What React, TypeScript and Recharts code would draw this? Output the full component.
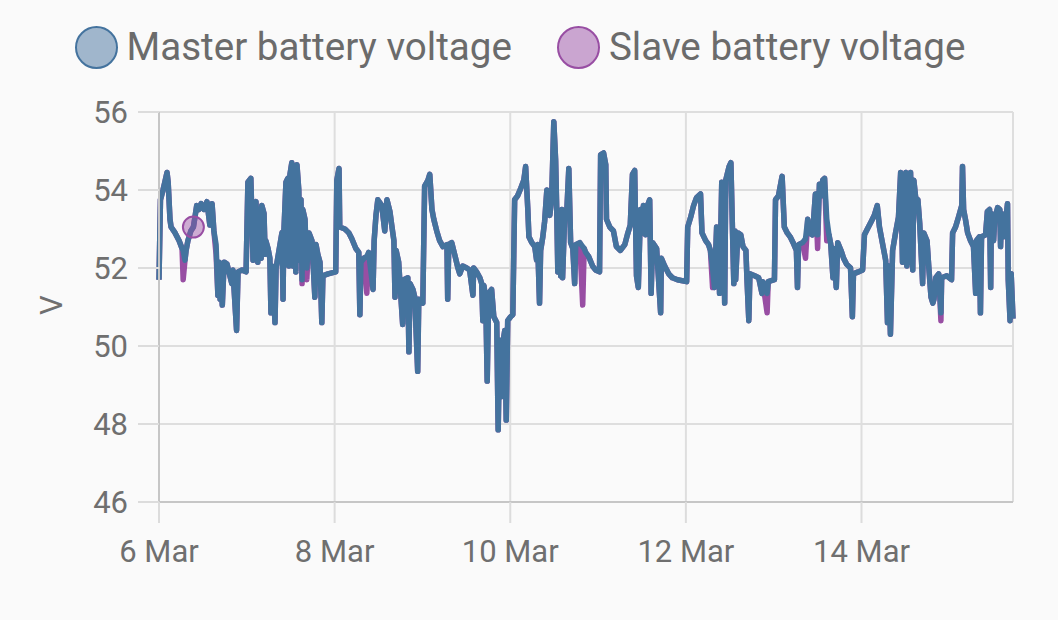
import React from 'react';
import { LineChart, Line, XAxis, YAxis, CartesianGrid, ReferenceDot } from 'recharts';

const MASTER_COLOR = '#44739e';
const SLAVE_COLOR = '#984ea3';
const TEXT_COLOR = '#6f6f6f';

// hours since 6 Mar 00:00
const hours = [
  0, 0.4, 1.1, 1.6, 2.2, 2.5, 3.0, 3.3, 4.4, 5.5,
  6.3, 6.6, 7.1, 7.4, 7.9, 8.7, 9.4, 9.9, 10.3, 10.9,
  11.5, 12.3, 13.1, 13.9, 14.5, 15.0, 15.6, 16.1, 16.4, 16.7,
  16.9, 17.3, 17.8, 18.6, 19.1, 19.9, 20.2, 21.2, 21.6, 22.7,
  23.8, 24.3, 25.1, 25.7, 25.9, 26.5, 27.0, 27.3, 27.9, 28.1,
  28.7, 29.0, 29.2, 29.8, 30.3, 30.6, 30.9, 31.1, 31.7, 32.0,
  32.8, 33.6, 33.9, 34.1, 34.7, 35.2, 35.5, 35.8, 36.3, 36.6,
  36.9, 37.4, 37.7, 38.2, 38.5, 38.8, 39.1, 39.3, 39.9, 40.4,
  41.0, 41.8, 42.6, 42.9, 43.4, 44.0, 44.5, 44.8, 46.2, 48.3,
  48.6, 49.2, 49.4, 50.8, 51.9, 52.7, 53.8, 54.6, 54.9, 55.2,
  56.0, 56.8, 57.3, 58.5, 58.8, 59.3, 59.8, 60.9, 61.7, 62.3,
  63.1, 63.6, 64.2, 64.5, 64.8, 65.5, 65.8, 66.6, 66.9, 68.0,
  68.3, 68.6, 69.4, 69.9, 70.7, 71.0, 72.1, 72.6, 73.5, 74.0,
  74.6, 75.1, 75.9, 76.7, 77.6, 78.7, 78.9, 79.2, 80.0, 80.8,
  81.7, 82.2, 83.0, 84.1, 84.9, 85.8, 86.0, 86.8, 87.7, 88.2,
  88.5, 88.8, 89.3, 89.7, 90.1, 90.9, 91.5, 92.3, 92.7, 93.1,
  93.5, 94.0, 94.5, 94.9, 95.3, 96.1, 96.7, 97.2, 98.0, 98.9,
  99.7, 100.2, 100.8, 101.1, 101.9, 102.7, 103.2, 103.5, 104.0, 104.3,
  104.9, 105.4, 106.0, 106.5, 106.8, 107.3, 107.9, 108.4, 108.7, 109.0,
  109.2, 109.8, 110.1, 110.3, 110.9, 111.4, 112.0, 112.5, 113.1, 113.6,
  113.9, 115.0, 115.8, 116.2, 116.6, 117.4, 118.5, 119.3, 120.4, 120.7,
  121.5, 122.1, 122.3, 123.2, 124.2, 125.0, 126.1, 127.3, 128.0, 128.8,
  129.4, 130.0, 130.5, 131.0, 131.6, 132.1, 132.4, 133.0, 133.5, 134.1,
  134.5, 134.9, 136.0, 137.1, 137.3, 138.2, 139.3, 140.3, 141.7, 144.2,
  144.5, 145.3, 146.1, 146.9, 148.0, 148.4, 149.4, 150.2, 150.7, 151.3,
  151.8, 152.4, 152.9, 153.2, 153.8, 154.3, 154.6, 154.9, 155.8, 156.3,
  156.8, 157.1, 157.4, 157.6, 158.2, 159.0, 159.6, 160.4, 160.7, 161.2,
  161.5, 162.8, 163.9, 164.8, 165.0, 166.2, 166.5, 168.2, 168.5, 169.3,
  169.8, 170.3, 170.9, 171.7, 172.5, 173.3, 174.2, 174.5, 174.8, 175.9,
  176.7, 177.3, 177.8, 178.6, 179.4, 180.0, 180.5, 181.1, 181.4, 181.9,
  182.5, 183.1, 183.6, 184.2, 184.4, 185.1, 185.5, 186.4, 187.1, 187.9,
  189.0, 189.5, 189.8, 191.1, 192.3, 192.8, 193.6, 194.7, 195.5, 196.3,
  196.9, 197.7, 198.6, 199.1, 199.4, 199.9, 200.5, 201.3, 202.1, 202.7,
  203.2, 203.5, 204.1, 204.4, 204.6, 205.2, 205.4, 206.0, 206.3, 206.8,
  207.4, 207.9, 208.7, 209.0, 209.9, 210.4, 211.0, 211.5, 211.8, 212.3,
  213.1, 213.7, 213.9, 215.3, 216.6, 216.9, 217.7, 218.5, 219.4, 219.6,
  219.9, 220.4, 221.0, 221.8, 222.6, 223.2, 223.4, 224.2, 224.5, 224.8,
  225.9, 226.4, 227.0, 227.3, 227.5, 228.1, 228.4, 229.2, 229.8, 230.0,
  230.3, 230.8, 231.3, 231.9, 232.1, 232.6, 232.9, 233.4,
];

const master = [
  51.7, 53.75, 54.0, 54.2, 54.45, 54.2, 53.25, 53.05, 52.9, 52.7,
  52.5, 52.45, 52.2, 52.45, 52.7, 52.95, 53.05, 53.35, 53.6, 53.5,
  53.65, 53.5, 53.7, 53.1, 53.65, 52.95, 52.6, 51.3, 52.15, 51.2,
  51.8, 51.05, 52.15, 52.1, 51.9, 51.6, 51.95, 50.4, 51.9, 51.95,
  51.9, 54.2, 54.3, 52.2, 53.6, 53.7, 52.15, 53.5, 52.25, 53.6,
  53.4, 52.35, 52.7, 52.5, 52.25, 50.85, 52.05, 51.9, 50.6, 52.0,
  52.45, 52.9, 51.2, 52.85, 54.2, 54.3, 52.05, 54.4, 54.7, 52.05,
  54.55, 51.9, 54.65, 54.0, 52.2, 53.75, 51.7, 53.5, 53.25, 52.0,
  52.9, 52.7, 51.25, 52.6, 52.35, 52.15, 50.6, 51.8, 51.85, 51.9,
  54.25, 54.55, 53.05, 53.0, 52.9, 52.75, 52.5, 52.4, 50.8, 52.15,
  52.25, 52.3, 52.4, 51.45, 52.7, 53.35, 53.75, 53.6, 52.95, 53.75,
  53.45, 53.1, 52.7, 51.25, 52.45, 52.15, 51.7, 50.55, 51.7, 51.75,
  49.85, 51.6, 51.45, 51.25, 49.35, 51.2, 51.1, 54.1, 54.25, 54.4,
  53.5, 53.25, 52.95, 52.7, 52.55, 52.6, 51.2, 52.6, 52.65, 52.35,
  52.0, 51.85, 52.05, 52.0, 51.95, 51.3, 52.0, 51.9, 51.75, 51.6,
  50.65, 51.55, 51.2, 49.1, 51.35, 51.45, 50.75, 50.6, 47.85, 50.15,
  48.7, 50.1, 50.4, 48.1, 50.65, 50.75, 50.8, 53.75, 53.85, 54.05,
  54.25, 54.6, 53.5, 52.8, 52.65, 52.55, 52.2, 52.6, 51.1, 52.45,
  52.8, 53.2, 54.0, 53.5, 53.35, 53.75, 55.75, 54.75, 53.5, 51.9,
  53.35, 51.8, 53.5, 51.75, 53.4, 53.35, 54.55, 52.65, 52.5, 51.6,
  52.6, 52.65, 52.55, 52.5, 52.4, 52.3, 52.05, 51.95, 51.9, 54.9,
  54.95, 54.65, 53.25, 53.05, 52.95, 52.55, 52.45, 52.6, 52.85, 53.1,
  54.4, 54.5, 51.8, 51.5, 53.5, 52.9, 53.6, 52.85, 53.6, 53.75,
  51.35, 52.65, 52.5, 50.85, 52.25, 52.05, 51.85, 51.75, 51.7, 51.65,
  53.05, 53.3, 53.6, 53.8, 53.9, 52.9, 52.7, 52.6, 52.45, 52.0,
  51.5, 53.05, 52.85, 51.35, 54.2, 54.0, 51.1, 54.25, 54.6, 54.7,
  52.7, 51.6, 52.95, 51.7, 52.9, 52.85, 52.55, 52.45, 51.7, 50.65,
  51.85, 51.8, 51.75, 51.35, 51.65, 51.35, 51.65, 51.7, 53.75, 53.85,
  54.1, 54.35, 53.05, 52.9, 52.8, 52.65, 52.45, 51.5, 52.6, 52.65,
  52.75, 53.25, 52.9, 52.85, 53.9, 52.85, 54.15, 53.85, 54.25, 54.3,
  53.25, 52.85, 52.6, 51.75, 52.5, 51.5, 52.65, 52.45, 52.25, 52.1,
  52.0, 50.75, 51.85, 51.9, 51.95, 52.85, 53.0, 53.2, 53.35, 53.6,
  53.05, 52.65, 52.2, 50.6, 52.05, 50.3, 52.45, 52.9, 53.3, 54.45,
  52.15, 54.25, 54.45, 52.05, 54.4, 52.15, 54.45, 51.95, 54.25, 53.8,
  53.75, 53.15, 51.6, 52.9, 52.7, 52.0, 51.25, 51.1, 51.2, 51.75,
  51.85, 50.85, 51.75, 51.8, 51.7, 52.9, 53.05, 53.3, 53.6, 54.6,
  53.5, 53.25, 52.9, 52.7, 52.55, 51.35, 52.7, 52.8, 50.85, 52.8,
  52.85, 53.45, 53.5, 51.5, 53.4, 52.7, 53.25, 53.55, 53.5, 52.55,
  53.4, 52.8, 53.1, 53.65, 51.7, 50.65, 51.85, 50.7,
];

const slave = [
  51.7, 53.75, 54.0, 54.2, 54.45, 54.2, 53.25, 53.05, 52.9, 52.7,
  52.5, 51.7, 52.2, 52.45, 52.7, 52.95, 53.05, 53.35, 53.6, 53.5,
  53.65, 53.5, 53.7, 53.1, 53.65, 52.95, 52.35, 51.3, 52.15, 51.2,
  51.8, 51.05, 52.15, 52.1, 51.9, 51.6, 51.95, 50.4, 51.9, 51.95,
  51.9, 54.2, 54.3, 52.2, 53.6, 53.7, 52.15, 53.5, 52.25, 53.6,
  53.4, 52.35, 52.7, 52.5, 52.25, 50.85, 52.05, 51.9, 50.6, 52.0,
  52.45, 52.9, 51.2, 52.85, 54.2, 54.3, 52.05, 54.4, 54.7, 52.05,
  54.55, 51.9, 54.65, 54.0, 52.2, 53.75, 51.6, 53.5, 53.25, 51.7,
  52.9, 52.7, 51.25, 52.6, 52.35, 52.15, 50.6, 51.8, 51.85, 51.9,
  54.25, 54.55, 53.05, 53.0, 52.9, 52.75, 52.5, 52.4, 50.8, 52.15,
  52.25, 51.35, 52.4, 51.45, 52.7, 53.35, 53.75, 53.6, 52.95, 53.75,
  53.45, 53.1, 52.7, 51.25, 52.45, 52.15, 51.7, 50.55, 51.7, 51.75,
  49.85, 51.6, 51.45, 51.25, 49.35, 51.2, 51.1, 54.1, 54.25, 54.4,
  53.5, 53.25, 52.95, 52.7, 52.55, 52.6, 51.2, 52.6, 52.65, 52.35,
  52.0, 51.85, 52.05, 52.0, 51.95, 51.3, 52.0, 51.9, 51.75, 51.6,
  50.65, 51.55, 51.2, 49.1, 51.35, 51.45, 50.75, 50.6, 47.85, 50.15,
  48.7, 50.1, 50.4, 48.1, 50.65, 50.75, 50.8, 53.75, 53.85, 54.05,
  54.25, 54.6, 53.5, 52.8, 52.65, 52.55, 52.2, 52.6, 51.1, 52.45,
  52.8, 53.2, 54.0, 53.5, 53.35, 53.75, 55.75, 54.75, 53.5, 51.9,
  53.35, 51.8, 53.5, 51.75, 53.4, 53.35, 54.55, 52.65, 52.5, 51.6,
  52.6, 52.65, 51.05, 52.5, 52.4, 52.3, 52.05, 51.95, 51.9, 54.9,
  54.95, 54.65, 53.25, 53.05, 52.95, 52.55, 52.45, 52.6, 52.85, 53.1,
  54.4, 54.5, 51.8, 51.5, 53.5, 52.9, 53.6, 52.85, 53.6, 53.75,
  51.35, 52.65, 52.5, 50.85, 52.25, 52.05, 51.85, 51.75, 51.7, 51.65,
  53.05, 53.3, 53.6, 53.8, 53.9, 52.9, 52.7, 52.6, 52.45, 51.5,
  51.5, 53.05, 52.85, 51.35, 54.2, 54.0, 51.1, 54.25, 54.6, 54.7,
  52.7, 51.6, 52.95, 51.7, 52.9, 52.85, 52.55, 52.45, 51.7, 50.65,
  51.85, 51.8, 51.75, 51.35, 51.65, 50.85, 51.65, 51.7, 53.75, 53.85,
  54.1, 54.35, 53.05, 52.9, 52.8, 52.65, 52.45, 51.5, 52.6, 52.65,
  52.25, 53.25, 52.9, 52.85, 53.9, 52.5, 54.15, 53.85, 54.25, 54.3,
  52.7, 52.85, 52.6, 51.75, 52.5, 51.5, 52.65, 52.45, 52.25, 52.1,
  52.0, 50.75, 51.85, 51.9, 51.95, 52.85, 53.0, 53.2, 53.35, 53.6,
  53.05, 52.65, 52.2, 50.6, 52.05, 50.3, 52.45, 52.9, 53.3, 54.45,
  52.15, 54.25, 54.45, 52.05, 54.4, 52.15, 54.45, 51.95, 54.25, 53.8,
  53.75, 53.15, 51.6, 52.9, 52.7, 52.0, 51.25, 51.1, 51.2, 51.75,
  51.85, 50.65, 51.75, 51.8, 51.7, 52.9, 53.05, 53.3, 53.6, 54.6,
  53.5, 53.25, 52.9, 52.7, 52.55, 51.35, 52.7, 52.8, 50.85, 52.8,
  52.85, 53.45, 53.5, 51.5, 53.4, 52.7, 53.25, 53.55, 53.5, 52.55,
  53.4, 52.8, 53.1, 53.65, 51.7, 50.65, 51.85, 50.7,
];

const xTicks = [0, 48, 96, 144, 192];
const xTickLabels = ['6 Mar', '8 Mar', '10 Mar', '12 Mar', '14 Mar'];
const yTicks = [46, 48, 50, 52, 54, 56];

// the slave reading the cursor is resting on
const hoverIndex = 16;

const legendItems = [
  { name: 'Master battery voltage', color: MASTER_COLOR, fill: '#a0b6cc' },
  { name: 'Slave battery voltage', color: SLAVE_COLOR, fill: '#caa5d0' },
];

const data = hours.map((t, i) => ({ t, master: master[i], slave: slave[i] }));

const renderYLabel = (props: any) => {
  const { x, y, height } = props.viewBox;
  const cx = x + 51;
  const cy = y + height / 2 - 2;
  return (
    <text
      x={cx}
      y={cy}
      dy="0.355em"
      textAnchor="middle"
      fill={TEXT_COLOR}
      fontSize={31}
      transform={`rotate(-90 ${cx} ${cy})`}
    >
      V
    </text>
  );
};

export default function App() {
  return (
    <div
      style={{
        position: 'absolute',
        left: 0,
        top: 0,
        width: 1058,
        height: 620,
        background: '#fafafa',
        fontFamily: 'Roboto, sans-serif',
      }}
    >
      <div
        style={{
          position: 'absolute',
          left: 0,
          top: 26,
          width: 1058,
          height: 42,
          display: 'flex',
          justifyContent: 'center',
          alignItems: 'center',
          gap: 45,
          paddingRight: 18,
          boxSizing: 'border-box',
        }}
      >
        {legendItems.map((item) => (
          <div key={item.name} style={{ display: 'flex', alignItems: 'center', gap: 9 }}>
            <div
              style={{
                width: 39,
                height: 39,
                borderRadius: '50%',
                background: item.fill,
                border: `2px solid ${item.color}`,
              }}
            />
            <span style={{ fontSize: 38.6, color: '#6b6b6b', lineHeight: '42px' }}>{item.name}</span>
          </div>
        ))}
      </div>
      <LineChart
        width={1058}
        height={620}
        data={data}
        margin={{ top: 112, right: 45, bottom: 58, left: 0 }}
        style={{ fontFamily: 'Roboto, sans-serif' }}
      >
        <CartesianGrid stroke="#dedede" strokeWidth={2} />
        <XAxis
          dataKey="t"
          type="number"
          domain={[0, 233.4]}
          ticks={xTicks}
          tickFormatter={(v) => xTickLabels[xTicks.indexOf(v)]}
          height={60}
          tickSize={21}
          tickMargin={17}
          tick={{ fill: TEXT_COLOR, fontSize: 31 }}
          tickLine={{ stroke: '#dcdcdc', strokeWidth: 2 }}
          axisLine={{ stroke: '#c6c6c6', strokeWidth: 2 }}
        />
        <YAxis
          type="number"
          domain={[46, 56]}
          ticks={yTicks}
          width={159}
          tickSize={21}
          tickMargin={10}
          tick={{ fill: TEXT_COLOR, fontSize: 31 }}
          tickLine={{ stroke: '#dcdcdc', strokeWidth: 2 }}
          axisLine={{ stroke: '#c6c6c6', strokeWidth: 2 }}
          label={{ value: 'V', content: renderYLabel }}
        />
        <Line
          dataKey="slave"
          type="linear"
          stroke={SLAVE_COLOR}
          strokeWidth={5.5}
          strokeLinejoin="round"
          dot={false}
          activeDot={false}
          isAnimationActive={false}
        />
        <Line
          dataKey="master"
          type="linear"
          stroke={MASTER_COLOR}
          strokeWidth={5.5}
          strokeLinejoin="round"
          dot={false}
          activeDot={false}
          isAnimationActive={false}
        />
        <ReferenceDot
          x={hours[hoverIndex]}
          y={slave[hoverIndex]}
          r={10.5}
          fill="rgba(152, 78, 163, 0.45)"
          stroke={SLAVE_COLOR}
          strokeWidth={2}
        />
      </LineChart>
    </div>
  );
}
